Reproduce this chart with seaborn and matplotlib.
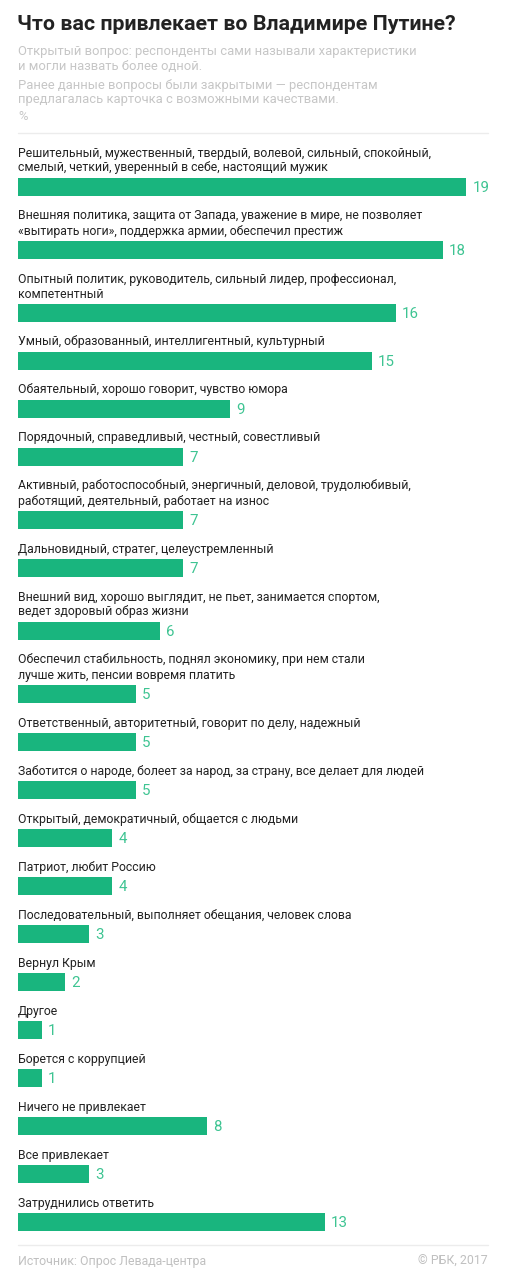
import numpy as np
import pandas as pd
import seaborn as sns
import matplotlib.pyplot as plt

# data
labels = [
    "Решительный, мужественный, твердый, волевой, сильный, спокойный,\nсмелый, четкий, уверенный в себе, настоящий мужик",
    "Внешняя политика, защита от Запада, уважение в мире, не позволяет\n«вытирать ноги», поддержка армии, обеспечил престиж",
    "Опытный политик, руководитель, сильный лидер, профессионал,\nкомпетентный",
    "Умный, образованный, интеллигентный, культурный",
    "Обаятельный, хорошо говорит, чувство юмора",
    "Порядочный, справедливый, честный, совестливый",
    "Активный, работоспособный, энергичный, деловой, трудолюбивый,\nработящий, деятельный, работает на износ",
    "Дальновидный, стратег, целеустремленный",
    "Внешний вид, хорошо выглядит, не пьет, занимается спортом,\nведет здоровый образ жизни",
    "Обеспечил стабильность, поднял экономику, при нем стали\nлучше жить, пенсии вовремя платить",
    "Ответственный, авторитетный, говорит по делу, надежный",
    "Заботится о народе, болеет за народ, за страну, все делает для людей",
    "Открытый, демократичный, общается с людьми",
    "Патриот, любит Россию",
    "Последовательный, выполняет обещания, человек слова",
    "Вернул Крым",
    "Другое",
    "Борется с коррупцией",
    "Ничего не привлекает",
    "Все привлекает",
    "Затруднились ответить",
]
values = [19, 18, 16, 15, 9, 7, 7, 7, 6, 5, 5, 5, 4, 4, 3, 2, 1, 1, 8, 3, 13]

title = "Что вас привлекает во Владимире Путине?"
subtitle = [
    "Открытый вопрос: респонденты сами называли характеристики",
    "и могли назвать более одной.",
    "Ранее данные вопросы были закрытыми — респондентам",
    "предлагалась карточка с возможными качествами.",
    "%",
]
source = "Источник: Опрос Левада-центра"
credit = "© РБК, 2017"

W, H = 506, 1280
LEFT = 18          # px, left edge of bars
UNIT = 23.6        # px per percent
GREEN = "#19b57e"
VAL_GREEN = "#3ec492"

# vertical layout in pixels (two-line labels take extra room)
n_lines = [lab.count("\n") + 1 for lab in labels]
ypos = [187]
for n in n_lines[1:]:
    ypos.append(ypos[-1] + 48 + 15 * (n - 1))

df = pd.DataFrame({"label": labels, "value": values, "y": ypos})

sns.set_style("white")
plt.rcParams["font.family"] = ["Roboto", "DejaVu Sans"]

fig = plt.figure(figsize=(W / 100, H / 100), dpi=100)
ax = fig.add_axes([0, 0, 1, 1])

bar_h = 18
sns.barplot(data=df, x="value", y="y", orient="h", native_scale=True,
            width=bar_h / np.min(np.diff(ypos)), color=GREEN, saturation=1,
            linewidth=0, ax=ax)

ax.set_xlim(-LEFT / UNIT, (W - LEFT) / UNIT)
ax.set_ylim(H, 0)
ax.axis("off")

for lab, v, y, n in zip(labels, values, ypos, n_lines):
    for k, line in enumerate(lab.split("\n")):
        ax.text(0, y - 19 - 15 * (n - 1 - k), line, fontsize=8.8,
                color="#222222", va="center", ha="left")
    ax.text(v + 6 / UNIT, y + 1, str(v), fontsize=10.8, color=VAL_GREEN,
            va="center", ha="left")


def px(x, y):
    return x / W, 1 - y / H


fig.text(*px(17, 25), title, fontsize=15.4, fontweight="bold",
         color="#222222", va="center", ha="left")
for y, line in zip([52, 67, 85, 99, 117], subtitle):
    fig.text(*px(18, y), line, fontsize=9.4, color="#c6c6c6",
             va="center", ha="left")

for y in [133, 1245]:
    ax.axhline(y, xmin=LEFT / W, xmax=488 / W, color="#ececec", lw=1)

fig.text(*px(18, 1261), source, fontsize=8.9, color="#c0c0c0",
         va="center", ha="left")
fig.text(*px(488, 1261), credit, fontsize=8.9, color="#c0c0c0",
         va="center", ha="right")

fig.savefig("out.png", dpi=100, facecolor="white")
